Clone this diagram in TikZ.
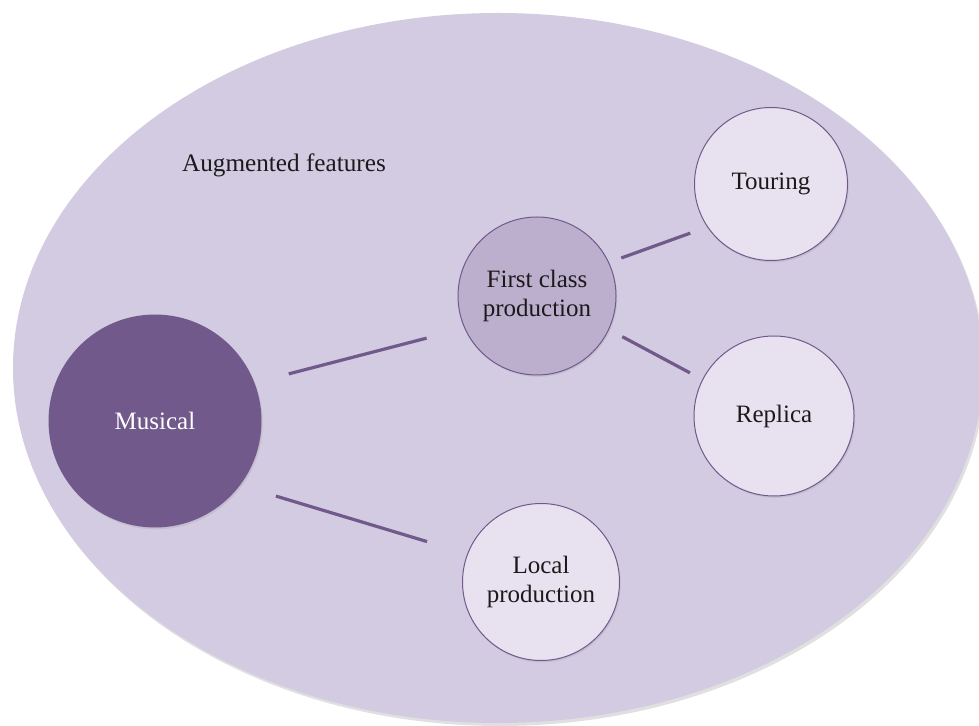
\documentclass[tikz,border=0pt]{standalone}
\usepackage{fontspec}
\setmainfont{Liberation Serif}
\usetikzlibrary{shadows}
\definecolor{bgpurple}{HTML}{D2CBE1}
\definecolor{darkpurple}{HTML}{715A8B}
\definecolor{midpurple}{HTML}{BCAFCE}
\definecolor{palepurple}{HTML}{E8E2F0}
\definecolor{textgray}{HTML}{1A1A1A}
\tikzset{
  bubble/.style={circle, draw=darkpurple, line width=0.5pt, fill=palepurple,
    text=textgray, align=center, inner sep=0pt,
    font=\fontsize{12.5}{14.5}\selectfont,
    drop shadow={opacity=0.18, shadow xshift=0.6pt, shadow yshift=-0.9pt}},
  link/.style={draw=darkpurple, line width=1.6pt}
}

\begin{document}
\begin{tikzpicture}[x=0.5pt, y=-0.5pt]
    \useasboundingbox (0,0) rectangle (979,726);
    % background set
    \fill[black, opacity=0.12] (500,371) ellipse [x radius=242.5pt, y radius=177.5pt];
    \fill[bgpurple] (498,368) ellipse [x radius=242.5pt, y radius=177.5pt];
    \node[text=textgray, font=\fontsize{12.6}{15}\selectfont] (title) at (284,165) {Augmented features};

    % circles
    \node[bubble, fill=darkpurple, draw=none, text=white, minimum size=106.5pt] (musical) at (155,421) {Musical};
    \node[bubble, fill=midpurple, minimum size=79pt] (first) at (537,296) {First class\\production};
    \node[bubble, minimum size=76.5pt] (touring) at (771,184) {Touring};
    \node[bubble, minimum size=80pt] (replica) at (774,416) {Replica};
    \node[bubble, minimum size=78.5pt] (local) at (541,582) {Local\\production};

    % links
    \draw[link, shorten <=17.5pt, shorten >=19.5pt] (musical.21) -- (first.204);
    \draw[link, shorten <=18.5pt, shorten >=21pt] (musical.-37) -- (local.159);
    \draw[link, shorten <=6.5pt, shorten >=9pt] (first.25) -- (touring.214);
    \draw[link, shorten <=7.5pt, shorten >=7pt] (first.-25) -- (replica.153);
\end{tikzpicture}
\end{document}
